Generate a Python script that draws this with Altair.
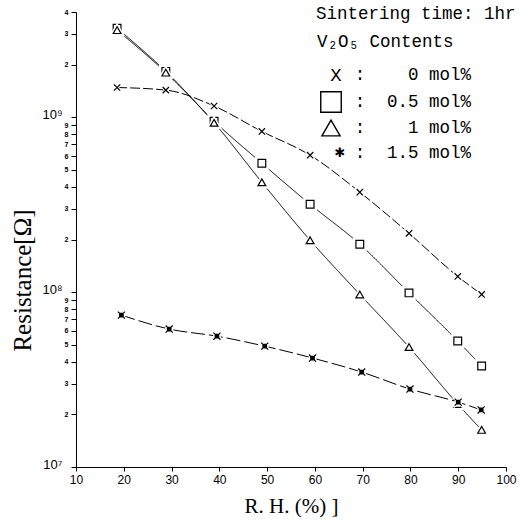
import altair as alt
import pandas as pd

# ---- data ----
rh_main = [18.6, 28.8, 38.9, 48.9, 59.0, 69.4, 79.7, 89.9, 94.9]
rh_star = [19.5, 29.5, 39.5, 49.5, 59.5, 69.8, 79.9, 90.0, 94.8]
r_0mol = [1.48e9, 1.43e9, 1.16e9, 8.3e8, 6.07e8, 3.73e8, 2.17e8, 1.23e8, 9.7e7]
r_05mol = [3.23e9, 1.83e9, 9.5e8, 5.46e8, 3.18e8, 1.88e8, 9.9e7, 5.25e7, 3.78e7]
r_1mol = [3.15e9, 1.80e9, 9.3e8, 4.25e8, 1.98e8, 9.7e7, 4.85e7, 2.29e7, 1.63e7]
r_15mol = [7.39e7, 6.15e7, 5.6e7, 4.91e7, 4.2e7, 3.49e7, 2.79e7, 2.35e7, 2.12e7]
series = ["0 mol%", "0.5 mol%", "1 mol%", "1.5 mol%"]

x_ticks = [10, 20, 30, 40, 50, 60, 70, 80, 90, 100]
y_ticks = [m * 10 ** e for e in (7, 8) for m in range(1, 10)] + [1e9, 2e9, 3e9, 4e9]

legend_title = "Sintering time: 1hr"
legend_sub = "V₂O₅ Contents"
legend_labels = ["0 mol%", "0.5 mol%", "1 mol%", "1.5 mol%"]

rows = []
for name, xs, ys in [(series[0], rh_main, r_0mol), (series[1], rh_main, r_05mol),
                     (series[2], rh_main, r_1mol), (series[3], rh_star, r_15mol)]:
    for a, b in zip(xs, ys):
        rows.append({"series": name, "rh": a, "r": b})
df = pd.DataFrame(rows)

X_PATH = "M-1,-1L1,1M-1,1L1,-1"
STAR_PATH = "M-0.5,-0.5L0.5,-0.5L0.5,0.5L-0.5,0.5Z M-1,-1L1,1 M-1,1L1,-1"

xscale = alt.Scale(domain=[10, 100], nice=False)
yscale = alt.Scale(type="log", domain=[1e7, 4e9], nice=False)

decade_test = "datum.value == 10000000 || datum.value == 100000000 || datum.value == 1000000000"

x_axis = alt.Axis(values=x_ticks, title="R. H. (%) ]", grid=False,
                  labelFont="Liberation Sans", labelFontSize=12, labelColor="black",
                  labelFlush=False, labelPadding=3, tickSize=4, tickColor="black",
                  domainColor="black", titleFont="Liberation Serif", titleFontSize=21,
                  titleFontWeight="normal", titleColor="black", titlePadding=10)
y_axis = alt.Axis(values=y_ticks, title="Resistance[Ω]", grid=False,
                  labelExpr="datum.value == 10000000 ? '10⁷' : datum.value == 100000000 ? '10⁸' : datum.value == 1000000000 ? '10⁹' : '' + round(datum.value / pow(10, floor(log(datum.value) / LN10 + 0.000001)))",
                  labelFontSize={"condition": {"test": decade_test, "value": 13}, "value": 7},
                  labelFontWeight={"condition": {"test": decade_test, "value": "normal"}, "value": "bold"},
                  labelPadding={"condition": {"test": decade_test, "value": 9}, "value": 3},
                  labelOffset={"condition": {"test": decade_test, "value": -3}, "value": 0},
                  labelFont="Liberation Sans", labelColor="black", labelOverlap=False,
                  labelFlush=False, tickSize=5, tickColor="black",
                  domainColor="black", titleFont="Liberation Serif", titleFontSize=25,
                  titleFontWeight="normal", titleColor="black", titleX=-54, titleY=268,
                  titleBaseline="middle")

X = alt.X("rh:Q", scale=xscale, axis=x_axis)
Y = alt.Y("r:Q", scale=yscale, axis=y_axis)
Xn = alt.X("rh:Q", scale=xscale)
Yn = alt.Y("r:Q", scale=yscale)

lines = alt.Chart(df).mark_line(color="black", strokeWidth=1, interpolate="monotone").encode(
    x=X, y=Y, detail="series:N",
    strokeDash=alt.StrokeDash("series:N", scale=alt.Scale(domain=series, range=[[10, 3], [1, 0], [1, 0], [14, 4]]), legend=None),
)

def pts(name, shape, size, fill, sw):
    base = alt.Chart(df).transform_filter(alt.datum.series == name)
    halo = base.mark_point(shape=shape, size=size * 1.9, filled=True, fill="white",
                           stroke="white", strokeWidth=3, opacity=1).encode(x=Xn, y=Yn)
    mark = base.mark_point(shape=shape, size=size, filled=True, fill=fill, stroke="black",
                           strokeWidth=sw, opacity=1).encode(x=Xn, y=Yn)
    return [halo, mark]

layers = [lines]
layers += pts(series[0], X_PATH, 40, "none", 1.2)
layers += pts(series[1], "square", 60, "white", 1.2)
layers += pts(series[2], "triangle-up", 60, "white", 1.2)
layers += pts(series[3], STAR_PATH, 50, "black", 1.2)

MONO = "Liberation Mono"

def txt(s, x, y, align="left", size=17.5, font=MONO):
    return alt.Chart(alt.Data(values=[{}])).mark_text(
        text=s, align=align, baseline="middle", font=font, fontSize=size, color="black"
    ).encode(x=alt.value(x), y=alt.value(y))

def sym(shape, x, y, size, fill="none", sw=1.4):
    return alt.Chart(alt.Data(values=[{}])).mark_point(
        shape=shape, size=size, filled=True, fill=fill, stroke="black", strokeWidth=sw, opacity=1
    ).encode(x=alt.value(x), y=alt.value(y))

row_y = [62.5, 90, 116, 141]
layers.append(txt(legend_title, 240, 2))
layers.append(txt(legend_sub, 241, 30))
layers.append(txt("X", 260, row_y[0], align="center", size=19))
layers.append(sym("square", 255, row_y[1], 420, fill="white"))
layers.append(sym("triangle-up", 255, row_y[2], 330, fill="white"))
layers.append(txt("✱", 264, row_y[3], align="center", size=13, font="DejaVu Sans"))
for yy, lab in zip(row_y, legend_labels):
    layers.append(txt(":", 284, yy, align="center"))
    layers.append(txt(lab, 395, yy, align="right"))

chart = alt.layer(*layers).properties(
    width=430, height=455,
    autosize=alt.AutoSizeParams(type="none"),
    padding={"left": 76, "top": 12, "right": 14, "bottom": 58},
    background="white",
).configure_view(stroke=None)

chart.save("out.html", embed_options={"renderer": "svg", "actions": False})
